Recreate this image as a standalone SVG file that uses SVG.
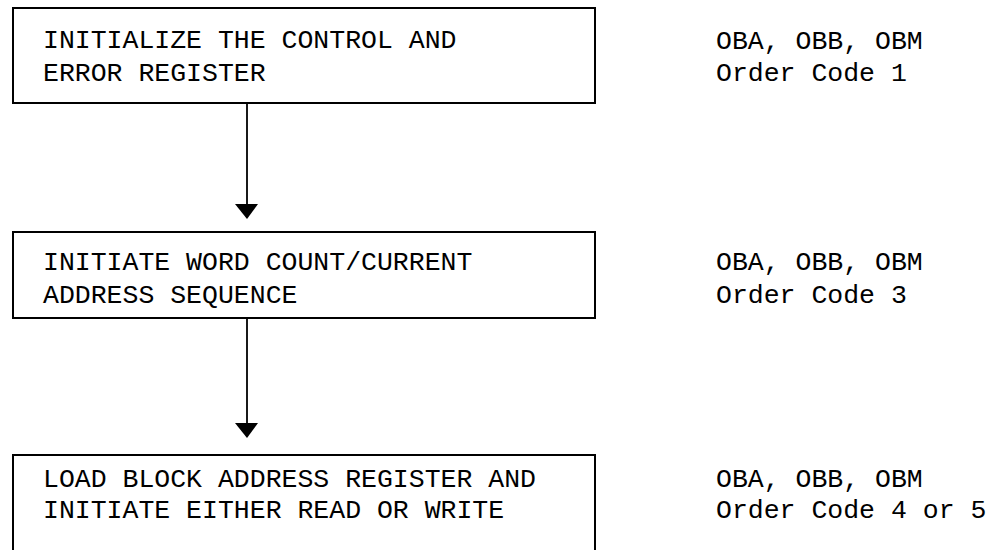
<svg xmlns="http://www.w3.org/2000/svg" width="992" height="550" viewBox="0 0 992 550">
<defs>
<style>
.box{fill:#fff;stroke:#000;stroke-width:2}
.t{font-family:"Liberation Mono","DejaVu Sans Mono",monospace;font-size:26.5px;fill:#000}
.c{stroke:#000;stroke-width:1.8;fill:none}
.h{fill:#000}
</style>
</defs>
<rect width="992" height="550" fill="#fff"/>
<g id="connectors">
<line class="c" x1="247" y1="104" x2="247" y2="206"/>
<path class="h" d="M235,204 L258,204 L247,219 Z"/>
<line class="c" x1="247" y1="319" x2="247" y2="425"/>
<path class="h" d="M235,423 L258,423 L247,438 Z"/>
</g>
<g id="node1">
<rect class="box" x="13" y="8" width="582" height="95"/>
<text class="t" x="43" y="48">INITIALIZE THE CONTROL AND</text>
<text class="t" x="43" y="81">ERROR REGISTER</text>
</g>
<g id="note1">
<text class="t" x="716" y="49">OBA, OBB, OBM</text>
<text class="t" x="716" y="81">Order Code 1</text>
</g>
<g id="node2">
<rect class="box" x="13" y="232" width="582" height="86"/>
<text class="t" x="43" y="270">INITIATE WORD COUNT/CURRENT</text>
<text class="t" x="43" y="303">ADDRESS SEQUENCE</text>
</g>
<g id="note2">
<text class="t" x="716" y="270">OBA, OBB, OBM</text>
<text class="t" x="716" y="303">Order Code 3</text>
</g>
<g id="node3">
<rect class="box" x="13" y="455" width="582" height="100"/>
<text class="t" x="43" y="487">LOAD BLOCK ADDRESS REGISTER AND</text>
<text class="t" x="43" y="518">INITIATE EITHER READ OR WRITE</text>
</g>
<g id="note3">
<text class="t" x="716" y="487">OBA, OBB, OBM</text>
<text class="t" x="716" y="518">Order Code 4 or 5</text>
</g>
</svg>
